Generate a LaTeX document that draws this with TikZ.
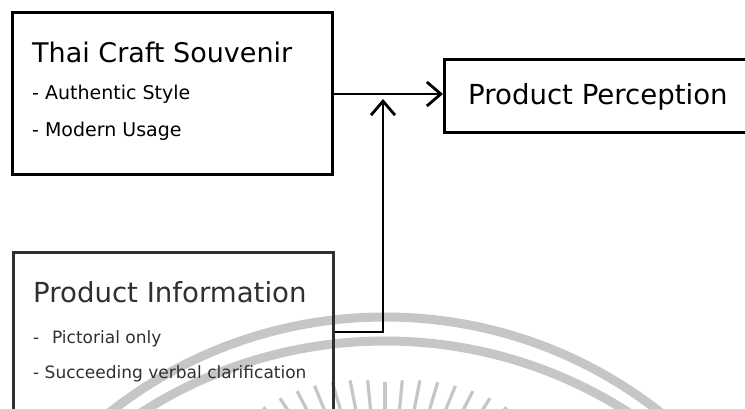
\documentclass[tikz,border=0pt]{standalone}
\usepackage{fontspec}
\setmainfont{DejaVu Sans}
\usetikzlibrary{arrows.meta}
\definecolor{inkdark}{HTML}{303030}
\definecolor{sealgray}{HTML}{C6C6C6}
\tikzset{
  frame/.style={draw=black, line width=3pt, minimum width=320pt, inner sep=0pt},
  frametwo/.style={draw=black, line width=3pt, inner sep=0pt},
  framedim/.style={draw=inkdark, line width=2.8pt, minimum width=320pt, inner sep=0pt},
  title/.style={anchor=base west, inner sep=0pt, font=\fontsize{27}{30}\selectfont},
  item/.style={anchor=base west, inner sep=0pt, font=\fontsize{19}{22}\selectfont},
  smallitem/.style={anchor=base west, inner sep=0pt, text=inkdark, font=\fontsize{17}{20}\selectfont},
  flow/.style={line width=2.8pt, -{Straight Barb[length=14pt,width=24pt]}},
  seal/.style={draw=sealgray, line width=9pt},
  ray/.style={draw=sealgray, line width=3.2pt}
}
\begin{document}
\begin{tikzpicture}[x=1pt, y=-1pt]
\useasboundingbox (0,0) rectangle (745,409);
\clip (0,0) rectangle (745,409);
\fill[white] (0,0) rectangle (745,409);

% faint seal in the lower part of the page
\draw[seal] (385,762) circle (445);
\draw[seal] (385,791) circle (450);
\foreach \a in {-38.5,-33,...,38.6}{
  \pgfmathsetmacro{\rin}{178+abs(\a)*0.45}
  \draw[ray] ({385+\rin*sin(\a)},{560-\rin*cos(\a)}) -- ({385+(\rin-60)*sin(\a)},{560-(\rin-60)*cos(\a)});
}

% boxes
\node[frame, minimum height=162pt] (craft) at (172,94) {};
\node[frametwo, minimum width=340pt, minimum height=73pt, anchor=north west] (percept) at (443,58) {};
\node[framedim, minimum height=190pt, anchor=north west] (info) at (12,251) {};

% texts
\node[title] (craftT) at (32,63) {Thai Craft Souvenir};
\node[item] (craftA) at (32,100) {- Authentic Style};
\node[item] (craftB) at (32,137) {- Modern Usage};
\node[title, font=\fontsize{27.6}{30}\selectfont] (perceptT) at (468,105) {Product Perception};
\node[title, text=inkdark, font=\fontsize{27.6}{30}\selectfont] (infoT) at (33,302) {Product Information};
\node[smallitem] (infoA) at (33,343) {-\hspace{0.75em}Pictorial only};
\node[smallitem] (infoB) at (33,378) {- Succeeding verbal clarification};

% connectors
\coordinate (turn) at (383,332);
\coordinate (meet) at (383,99);
\draw[flow] (craft.east) -- (percept.west |- craft.east);
\draw[flow, draw=black] (info.east |- turn) -- (turn) -- (meet);
\end{tikzpicture}
\end{document}
